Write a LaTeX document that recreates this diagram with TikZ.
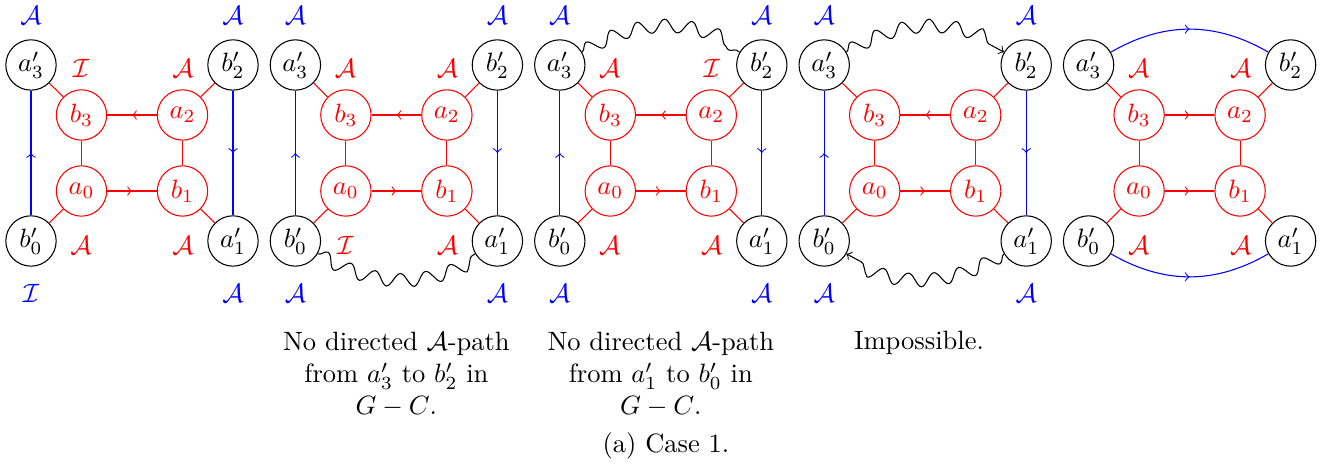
\documentclass[tikz,border=0pt]{standalone}
\usetikzlibrary{decorations.pathmorphing,decorations.markings}
\begin{document}
\begin{tikzpicture}[x=0.3774pt,y=0.3774pt,
  vtx/.style={circle,draw,minimum size=19pt,inner sep=0pt},
  rvtx/.style={vtx,red},
  redge/.style={red},
  bedge/.style={blue},
  midarrow/.style={postaction={decorate},decoration={markings,mark=at position 0.5 with {\arrow{>}}}},
  wave/.style={decorate,decoration={snake}},
  wavearrow/.style={->,decorate,decoration={snake,post length=4pt}},
  rlab/.style={red,inner sep=0pt},
  blab/.style={blue,inner sep=0pt},
  captext/.style={align=center,inner sep=0pt}]
\useasboundingbox (0,0) rectangle (1336,465);

\foreach \i/\cx in {1/132,2/396.4,3/660.8,4/925.2,5/1189.6}{
  \node[vtx] (ta\i) at (\cx-101,400) {$a'_3$};
  \node[vtx] (tb\i) at (\cx+101,400) {$b'_2$};
  \node[vtx] (bb\i) at (\cx-101,224) {$b'_0$};
  \node[vtx] (ba\i) at (\cx+101,224) {$a'_1$};
  \node[rvtx] (rb\i) at (\cx-50.5,350) {$b_3$};
  \node[rvtx] (ra\i) at (\cx+50.5,350) {$a_2$};
  \node[rvtx] (za\i) at (\cx-50.5,274) {$a_0$};
  \node[rvtx] (zb\i) at (\cx+50.5,274) {$b_1$};
  \draw[redge] (ta\i) -- (rb\i);
  \draw[redge] (rb\i) -- (za\i);
  \draw[redge] (za\i) -- (bb\i);
  \draw[redge] (tb\i) -- (ra\i);
  \draw[redge] (ra\i) -- (zb\i);
  \draw[redge] (zb\i) -- (ba\i);
  \draw[redge,midarrow] (za\i) -- (zb\i);
}

% panels 1-4: arrows and blue vertical edges
\foreach \i in {1,2,3,4}{
  \draw[redge,midarrow] (ra\i) -- (rb\i);
  \draw[bedge,midarrow] (bb\i) -- (ta\i);
  \draw[bedge,midarrow] (tb\i) -- (ba\i);
}
% panel 5
\draw[redge,midarrow] (rb5) -- (ra5);
\draw[bedge,midarrow] (ta5) to[bend left] (tb5);
\draw[bedge,midarrow] (bb5) to[bend right] (ba5);

% wavy paths
\draw[wave] (bb2) to[bend right] (ba2);
\draw[wave] (ta3) to[bend left] (tb3);
\draw[wavearrow] (ta4) to[bend left] (tb4);
\draw[wavearrow] (ba4) to[bend left] (bb4);

% blue labels
\node[blab] (bl1a) at (31,450) {$\mathcal{A}$};
\node[blab] (bl1b) at (233,450) {$\mathcal{A}$};
\node[blab] (bl1c) at (31,172) {$\mathcal{I}$};
\node[blab] (bl1d) at (233,172) {$\mathcal{A}$};
\foreach \i/\cx in {2/396.4,3/660.8,4/925.2}{
  \node[blab] (bla\i) at (\cx-101,450) {$\mathcal{A}$};
  \node[blab] (blb\i) at (\cx+101,450) {$\mathcal{A}$};
  \node[blab] (blc\i) at (\cx-101,172) {$\mathcal{A}$};
  \node[blab] (bld\i) at (\cx+101,172) {$\mathcal{A}$};
}

% red labels
\node[rlab] (rl1a) at (81,397) {$\mathcal{I}$};
\node[rlab] (rl1b) at (183,397) {$\mathcal{A}$};
\node[rlab] (rl1c) at (81,220) {$\mathcal{A}$};
\node[rlab] (rl1d) at (183,220) {$\mathcal{A}$};
\node[rlab] (rl2a) at (345.4,397) {$\mathcal{A}$};
\node[rlab] (rl2b) at (447.4,397) {$\mathcal{A}$};
\node[rlab] (rl2c) at (345.4,220) {$\mathcal{I}$};
\node[rlab] (rl2d) at (447.4,220) {$\mathcal{A}$};
\node[rlab] (rl3a) at (609.8,397) {$\mathcal{A}$};
\node[rlab] (rl3b) at (711.8,397) {$\mathcal{I}$};
\node[rlab] (rl3c) at (609.8,220) {$\mathcal{A}$};
\node[rlab] (rl3d) at (711.8,220) {$\mathcal{A}$};
\node[rlab] (rl5a) at (1138.6,397) {$\mathcal{A}$};
\node[rlab] (rl5b) at (1240.6,397) {$\mathcal{A}$};
\node[rlab] (rl5c) at (1138.6,220) {$\mathcal{A}$};
\node[rlab] (rl5d) at (1240.6,220) {$\mathcal{A}$};

% captions
\node[captext,anchor=north] (cap2) at (396.4,133) {No directed $\mathcal{A}$-path\\ from $a'_3$ to $b'_2$ in\\ $G-C$.};
\node[captext,anchor=north] (cap3) at (660.8,133) {No directed $\mathcal{A}$-path\\ from $a'_1$ to $b'_0$ in\\ $G-C$.};
\node[captext,anchor=base] (cap4) at (919,115) {Impossible.};
\node[captext,anchor=base] (capall) at (666,12) {(a) Case 1.};
\end{tikzpicture}
\end{document}
